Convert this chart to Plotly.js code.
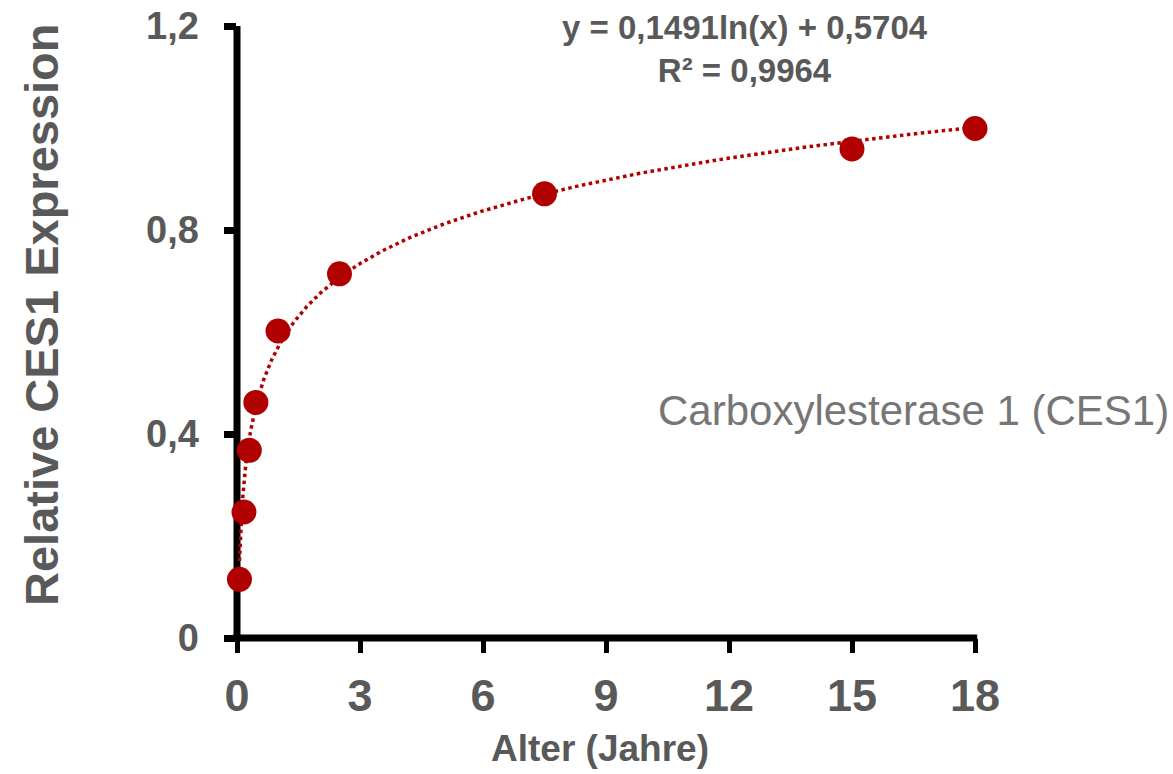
<!DOCTYPE html>
<html>
<head>
<meta charset="utf-8">
<script src="https://cdn.plot.ly/plotly-3.0.1.min.js"></script>
<style>
  html, body { margin: 0; padding: 0; background: #fff; }
  #chart { width: 1173px; height: 774px; }
</style>
</head>
<body>
<div id="chart"></div>
<script>
// ---- data ----
var ageYears = [0.06, 0.17, 0.30, 0.46, 1.0, 2.5, 7.5, 15.0, 18.0];
var ces1Expression = [0.115, 0.247, 0.368, 0.462, 0.602, 0.714, 0.871, 0.959, 0.999];

// logarithmic trendline shown on the chart: y = a*ln(x) + b
var trendA = 0.1491;
var trendB = 0.5704;
var trendLabel = "y = 0,1491ln(x) + 0,5704";
var r2Label = "R² = 0,9964";

var xTickVals = [0, 3, 6, 9, 12, 15, 18];
var xTickText = ["0", "3", "6", "9", "12", "15", "18"];
var yTickVals = [0, 0.4, 0.8, 1.2];
var yTickText = ["0", "0,4", "0,8", "1,2"];

var xTitle = "Alter (Jahre)";
var yTitle = "Relative CES1 Expression";
var seriesLabel = "Carboxylesterase 1 (CES1)";

// trendline sampled over the data range (log-spaced)
var xMin = Math.min.apply(null, ageYears), xMax = Math.max.apply(null, ageYears);
var trendX = [], trendY = [];
var nT = 300;
for (var i = 0; i <= nT; i++) {
  var xv = Math.exp(Math.log(xMin) + (Math.log(xMax) - Math.log(xMin)) * i / nT);
  trendX.push(xv);
  trendY.push(trendA * Math.log(xv) + trendB);
}

var red = "#B00000";
var gray = "#595959";
var font = "Liberation Sans, Arial, sans-serif";

var traces = [
  {
    x: trendX, y: trendY, type: "scatter", mode: "lines",
    line: { color: red, width: 3.5, dash: "dot" },
    hoverinfo: "skip", cliponaxis: false, showlegend: false
  },
  {
    x: ageYears, y: ces1Expression, type: "scatter", mode: "markers",
    marker: { color: red, size: 25, line: { width: 0 } },
    cliponaxis: false, showlegend: false
  }
];

var layout = {
  width: 1173, height: 774,
  margin: { l: 237, r: 198, t: 26, b: 136 },
  paper_bgcolor: "#fff", plot_bgcolor: "#fff",
  showlegend: false,
  font: { family: font, color: gray },
  xaxis: {
    range: [0, 18], showgrid: false, zeroline: false, showline: false,
    tickvals: xTickVals, ticktext: xTickText,
    ticks: "outside", ticklen: 14, tickwidth: 5, tickcolor: "#000",
    tickfont: { family: font, size: 45, color: gray, weight: "bold" },
    ticklabelstandoff: 4
  },
  yaxis: {
    range: [0, 1.2], showgrid: false, zeroline: false, showline: false,
    tickvals: yTickVals, ticktext: yTickText,
    ticks: "outside", ticklen: 12.5, tickwidth: 7, tickcolor: "#000",
    tickfont: { family: font, size: 38, color: gray, weight: "bold" },
    ticklabelstandoff: 17
  },
  shapes: [
    { type: "line", xref: "paper", yref: "paper", x0: 0, x1: 0, y0: 0, y1: 1,
      line: { color: "#000", width: 7 }, layer: "below" },
    { type: "line", xref: "paper", yref: "paper", x0: -0.005, x1: 1.003, y0: 0, y1: 0,
      line: { color: "#000", width: 7 }, layer: "below" }
  ],
  annotations: [
    { text: "<b>" + trendLabel + "</b><br><b>" + r2Label + "</b>",
      xref: "paper", yref: "paper", x: (745 - 237) / 738, y: (638 - 49) / 612,
      xanchor: "center", yanchor: "middle", showarrow: false, align: "center",
      font: { family: font, size: 33, color: gray } },
    { text: seriesLabel, xref: "paper", yref: "paper",
      x: (656 - 237) / 738, y: (638 - 410) / 612, xanchor: "left", yanchor: "middle",
      showarrow: false, font: { family: font, size: 42, color: "#767676" } },
    { text: "<b>" + xTitle + "</b>", xref: "paper", yref: "paper",
      x: (600 - 237) / 738, y: (638 - 748) / 612, xanchor: "center", yanchor: "middle",
      showarrow: false, font: { family: font, size: 37, color: gray } },
    { text: "<b>" + yTitle + "</b>", xref: "paper", yref: "paper", textangle: -90,
      x: (41 - 237) / 738, y: (638 - 315) / 612, xanchor: "center", yanchor: "middle",
      showarrow: false, font: { family: font, size: 47, color: gray } }
  ]
};

Plotly.newPlot("chart", traces, layout, { displayModeBar: false, staticPlot: true });
</script>
</body>
</html>
